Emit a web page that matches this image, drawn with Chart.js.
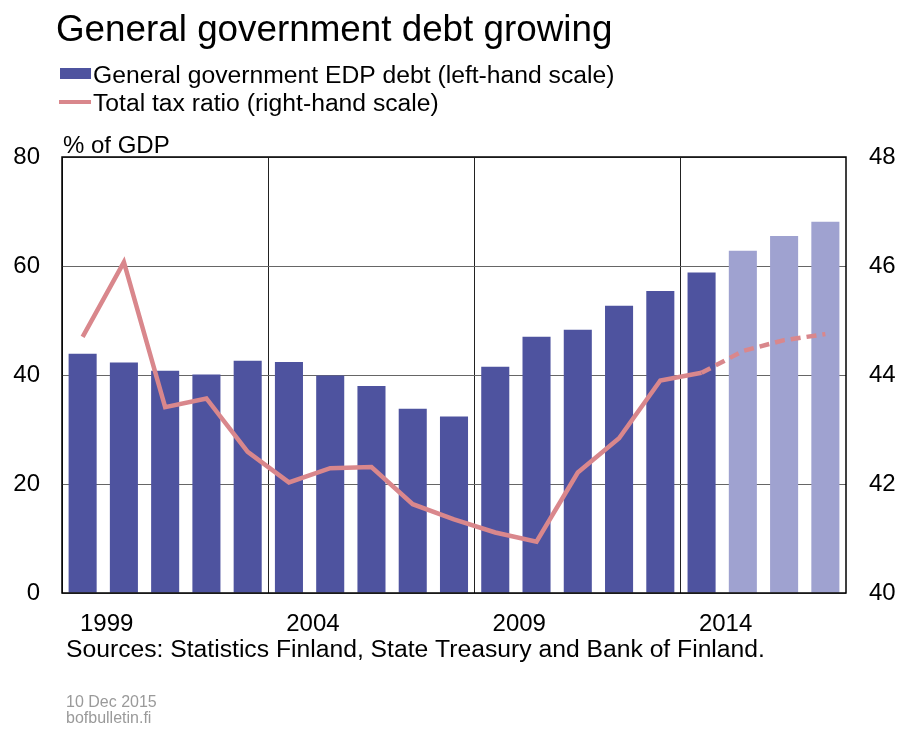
<!DOCTYPE html>
<html>
<head>
<meta charset="utf-8">
<script src="https://cdn.jsdelivr.net/npm/chart.js@4.4.1/dist/chart.umd.min.js"></script>
<style>
  html, body { margin: 0; background: #fff; }
  #wrap { width: 900px; height: 729px; }
</style>
</head>
<body>
<div id="wrap"><canvas id="chart"></canvas></div>
<script>
// ===== Dados =====
const years = ['1999', '2000', '2001', '2002', '2003', '2004', '2005', '2006', '2007', '2008',
  '2009', '2010', '2011', '2012', '2013', '2014', '2015', '2016', '2017'];
// % of GDP (left-hand scale)
const edpDebt = [43.9, 42.3, 40.8, 40.1, 42.6, 42.4, 39.9, 38.0, 33.8, 32.4,
  41.5, 47.0, 48.3, 52.7, 55.4, 58.8, 62.8, 65.5, 68.1];
// % of GDP (right-hand scale)
const taxRatio = [44.7, 46.07, 43.41, 43.57, 42.59, 42.03, 42.29, 42.31, 41.63, 41.35,
  41.11, 40.94, 42.21, 42.84, 43.9, 44.04, 44.44, 44.64, 44.75];
// anos de previsão (barras claras, linha tracejada)
const forecastYears = ['2015', '2016', '2017'];
const labeledYears = ['1999', '2004', '2009', '2014'];

const FONT = '"Liberation Sans", Arial, sans-serif';
const DARK_BAR = '#4e539f';
const LIGHT_BAR = '#9fa2d0';
const LINE_COLOR = '#d9878c';

// ===== Textos e moldura desenhados no canvas =====
const decorations = {
  id: 'decorations',
  afterDraw(chart) {
    const { ctx, chartArea: a } = chart;
    ctx.save();

    // moldura do gráfico
    ctx.strokeStyle = '#000';
    ctx.lineWidth = 1.5;
    ctx.strokeRect(a.left, a.top, a.right - a.left, a.bottom - a.top);

    ctx.textBaseline = 'alphabetic';
    ctx.textAlign = 'left';
    ctx.fillStyle = '#000';

    // título
    ctx.font = '36.8px ' + FONT;
    ctx.fillText('General government debt growing', 56, 41);

    // legenda
    ctx.fillStyle = DARK_BAR;
    ctx.fillRect(60, 68, 31, 11);
    ctx.strokeStyle = LINE_COLOR;
    ctx.lineWidth = 4;
    ctx.beginPath();
    ctx.moveTo(59, 102);
    ctx.lineTo(91, 102);
    ctx.stroke();

    ctx.fillStyle = '#000';
    ctx.font = '24.7px ' + FONT;
    ctx.fillText('General government EDP debt (left-hand scale)', 93, 83);
    ctx.fillText('Total tax ratio (right-hand scale)', 93, 111);

    // unidade
    ctx.font = '24px ' + FONT;
    ctx.fillText('% of GDP', 63, 153);

    // fontes
    ctx.font = '24.7px ' + FONT;
    ctx.fillText('Sources: Statistics Finland, State Treasury and Bank of Finland.', 66, 657);

    // rodapé
    ctx.fillStyle = '#9a9a9a';
    ctx.font = '16px ' + FONT;
    ctx.fillText('10 Dec 2015', 66, 707);
    ctx.fillText('bofbulletin.fi', 66, 723);

    ctx.restore();
  }
};

const isForecast = years.map(y => forecastYears.includes(y));

new Chart(document.getElementById('chart'), {
  data: {
    labels: years,
    datasets: [
      {
        type: 'line',
        label: 'Total tax ratio (right-hand scale)',
        data: taxRatio,
        yAxisID: 'y1',
        borderColor: LINE_COLOR,
        borderWidth: 4.5,
        pointRadius: 0,
        tension: 0,
        order: 0,
        segment: {
          borderDash: c => isForecast[c.p1DataIndex] ? [10, 6] : undefined
        }
      },
      {
        type: 'bar',
        label: 'General government EDP debt (left-hand scale)',
        data: edpDebt,
        yAxisID: 'y',
        backgroundColor: isForecast.map(f => f ? LIGHT_BAR : DARK_BAR),
        barPercentage: 0.68,
        categoryPercentage: 1,
        order: 1
      }
    ]
  },
  plugins: [decorations],
  options: {
    responsive: true,
    maintainAspectRatio: false,
    animation: false,
    layout: { padding: { top: 157, left: 0, right: 0, bottom: 0 } },
    plugins: {
      legend: { display: false },
      title: { display: false },
      tooltip: { enabled: false }
    },
    scales: {
      x: {
        type: 'category',
        offset: true,
        border: { display: false },
        grid: {
          offset: true,
          drawTicks: false,
          lineWidth: 1,
          color: c => (c.tick && labeledYears.includes(c.tick.label)) ? '#222' : 'rgba(0,0,0,0)'
        },
        ticks: {
          autoSkip: false,
          maxRotation: 0,
          labelOffset: 24,
          padding: 17,
          color: '#000',
          font: { family: FONT, size: 24 },
          callback: (v, i) => labeledYears.includes(years[i]) ? years[i] : ''
        },
        afterFit: s => { s.height = 136; }
      },
      y: {
        position: 'left',
        min: 0,
        max: 80,
        border: { display: false },
        grid: { color: '#666', lineWidth: 1, drawTicks: false },
        ticks: {
          stepSize: 20,
          padding: 22,
          color: '#000',
          font: { family: FONT, size: 24 }
        },
        afterFit: s => { s.width = 62; }
      },
      y1: {
        position: 'right',
        min: 40,
        max: 48,
        border: { display: false },
        grid: { display: false, drawTicks: false },
        ticks: {
          stepSize: 2,
          padding: 23,
          color: '#000',
          font: { family: FONT, size: 24 }
        },
        afterFit: s => { s.width = 54; }
      }
    }
  }
});
</script>
</body>
</html>
